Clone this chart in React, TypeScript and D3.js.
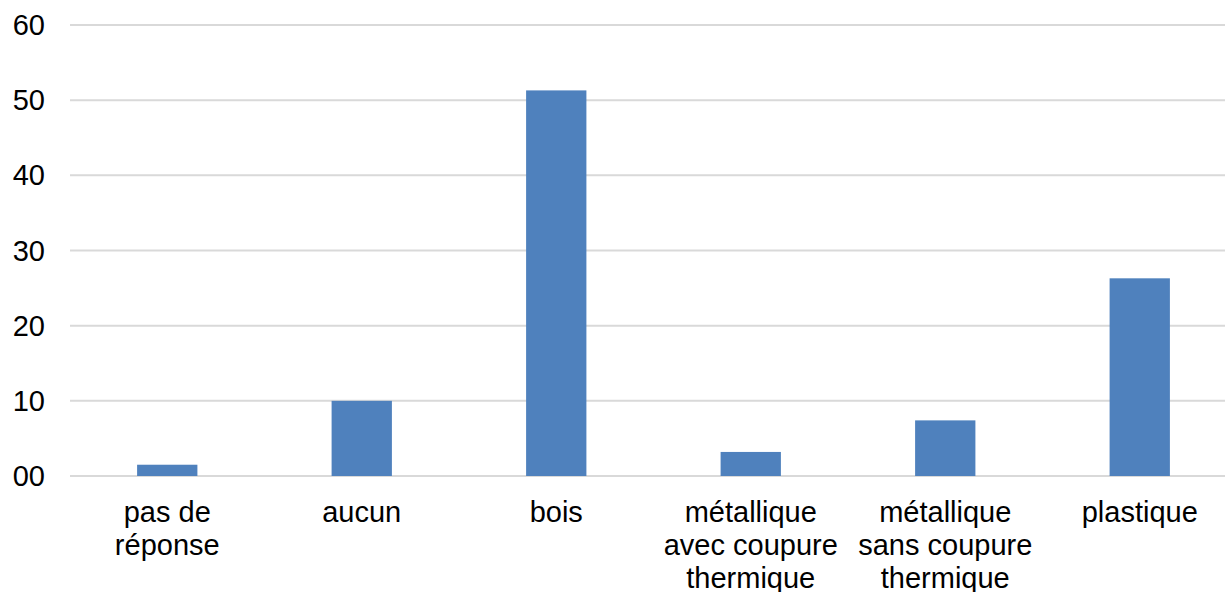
import { useEffect, useRef } from "react";
import { select, scaleBand, scaleLinear } from "d3";

const categories = [
  "pas de|réponse",
  "aucun",
  "bois",
  "métallique|avec coupure|thermique",
  "métallique|sans coupure|thermique",
  "plastique",
];
const values = [1.5, 10, 51.3, 3.2, 7.4, 26.3];
const yTicks = [0, 10, 20, 30, 40, 50, 60];
const yTickLabels = ["00", "10", "20", "30", "40", "50", "60"];

const draw = (ref: SVGSVGElement) => {
  const svg = select(ref);
  svg.selectAll("*").remove();

  const m = { l: 70, t: 25, b: 116 };
  const w = 1225;
  const h = 592;
  const plotW = 1167;

  const x = scaleBand().domain(categories).range([m.l, m.l + plotW]).paddingInner(0.69).paddingOuter(0.345);
  const y = scaleLinear().domain([0, 60]).range([h - m.b, m.t]);

  const g = svg.append("g").style("font-family", "'Liberation Sans', Arial, sans-serif");

  // gridlines
  g.selectAll("line.grid")
    .data(yTicks)
    .join("line")
    .attr("class", "grid")
    .attr("x1", m.l)
    .attr("x2", w)
    .attr("y1", (d) => y(d))
    .attr("y2", (d) => y(d))
    .attr("stroke", "#d9d9d9")
    .attr("stroke-width", 2);

  // y labels
  g.selectAll("text.ylab")
    .data(yTicks)
    .join("text")
    .attr("class", "ylab")
    .attr("x", 45)
    .attr("y", (d) => y(d) + 10)
    .attr("text-anchor", "end")
    .attr("font-size", 29)
    .attr("fill", "#000")
    .text((d, i) => yTickLabels[i]);

  // bars
  g.selectAll("rect")
    .data(values)
    .join("rect")
    .attr("x", (d, i) => x(categories[i])!)
    .attr("width", x.bandwidth())
    .attr("y", (d) => y(d))
    .attr("height", (d) => y(0) - y(d))
    .attr("fill", "#4f81bd");

  // category labels
  const lab = g
    .selectAll("text.xlab")
    .data(categories)
    .join("text")
    .attr("class", "xlab")
    .attr("text-anchor", "middle")
    .attr("font-size", 29)
    .attr("fill", "#000");
  lab
    .selectAll("tspan")
    .data((d) => d.split("|").map((s) => ({ s, c: x(d)! + x.bandwidth() / 2 })))
    .join("tspan")
    .attr("x", (d) => d.c)
    .attr("y", (d, i) => 522 + i * 33)
    .text((d) => d.s);
};

export default function App() {
  const ref = useRef<SVGSVGElement>(null);
  useEffect(() => {
    if (ref.current) draw(ref.current);
  }, []);
  return (
    <div style={{ position: "absolute", left: 0, top: 0 }}>
      <svg ref={ref} width={1225} height={592} style={{ display: "block", background: "#fff" }} />
    </div>
  );
}
